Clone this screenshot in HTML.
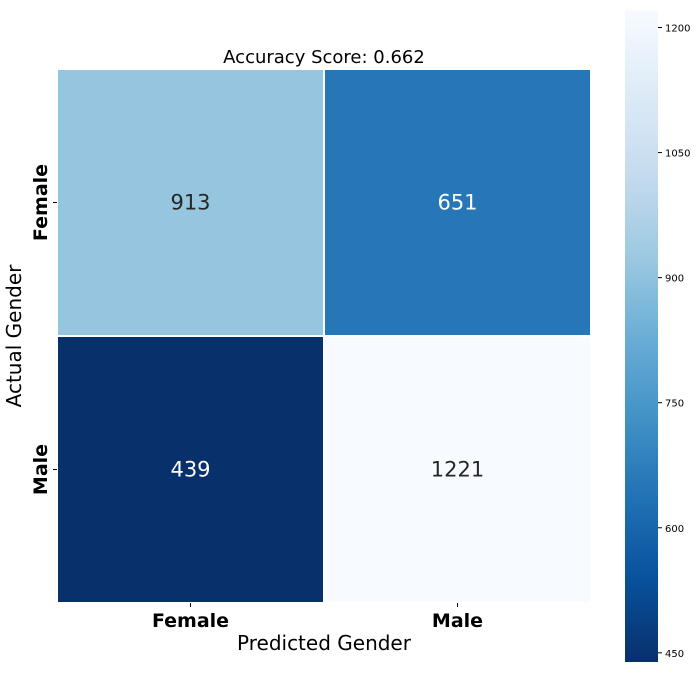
<!DOCTYPE html>
<html><head><meta charset="utf-8"><style>
body{margin:0;background:#fff;}
svg{display:block;font-family:"DejaVu Sans","Liberation Sans",sans-serif;}
</style></head><body>
<svg id="chart" width="697" height="673" viewBox="0 0 697 673" xmlns="http://www.w3.org/2000/svg">
<defs>
<linearGradient id="cbgrad" x1="0" y1="1" x2="0" y2="0">
<stop offset="0" stop-color="#08306b"/><stop offset="0.125" stop-color="#08519c"/><stop offset="0.25" stop-color="#2171b5"/><stop offset="0.375" stop-color="#4292c6"/><stop offset="0.5" stop-color="#6baed6"/><stop offset="0.625" stop-color="#9ecae1"/><stop offset="0.75" stop-color="#c6dbef"/><stop offset="0.875" stop-color="#deebf7"/><stop offset="1" stop-color="#f7fbff"/>
</linearGradient>
</defs>
<text x="324" y="63" font-size="18" text-anchor="middle" fill="#000">Accuracy Score: 0.662</text>
<g id="cells"></g>
<g id="ticks"></g>
<text x="324" y="650" font-size="20" text-anchor="middle" fill="#000">Predicted Gender</text>
<text transform="translate(21,336) rotate(-90)" font-size="20" text-anchor="middle" fill="#000">Actual Gender</text>
<rect x="625" y="10" width="33" height="652" fill="url(#cbgrad)"/>
<g id="cbticks"></g>
</svg>
<script>
const xCats = ["Female","Male"];
const yCats = ["Female","Male"];
const values = [[913,651],[439,1221]];
const cbTicks = [450,600,750,900,1050,1200];
const vmin = 439, vmax = 1221;

const NS="http://www.w3.org/2000/svg";
const stops=["#08306b","#08519c","#2171b5","#4292c6","#6baed6","#9ecae1","#c6dbef","#deebf7","#f7fbff"];
function hex(h){return [1,3,5].map(i=>parseInt(h.substr(i,2),16));}
function color(v){
  let t=(v-vmin)/(vmax-vmin); t=Math.max(0,Math.min(1,t));
  const p=t*8, i=Math.min(7,Math.floor(p)), f=p-i;
  const a=hex(stops[i]), b=hex(stops[i+1]);
  return "rgb("+a.map((c,k)=>Math.round(c+(b[k]-c)*f)).join(",")+")";
}
function lum(v){return (v-vmin)/(vmax-vmin);}
const X0=57,X1=591,Y0=69,Y1=603;
const cw=(X1-X0)/xCats.length, ch=(Y1-Y0)/yCats.length;
function xPos(i){return X0+i*cw;}
function yPos(j){return Y0+j*ch;}
function cbY(v){return 662-(v-vmin)/(vmax-vmin)*652;}
function mk(tag,attrs,parent){const e=document.createElementNS(NS,tag);for(const k in attrs)e.setAttribute(k,attrs[k]);parent.appendChild(e);return e;}
const cells=document.getElementById("cells");
yCats.forEach((yc,j)=>{xCats.forEach((xc,i)=>{
  const v=values[j][i];
  const r=mk("rect",{x:xPos(i),y:yPos(j),width:cw,height:ch,fill:color(v),stroke:"#fff","stroke-width":2},cells);
  
  
  const t=mk("text",{x:xPos(i)+cw/2,y:yPos(j)+ch/2+7,"font-size":21,"text-anchor":"middle",fill:lum(v)>0.45?"#262626":"#fff"},cells);
  t.textContent=v;
  
  
});});
const ticks=document.getElementById("ticks");
xCats.forEach((c,i)=>{
  const cx=xPos(i)+cw/2;
  mk("line",{x1:cx,x2:cx,y1:Y1,y2:Y1+4,stroke:"#000"},ticks);
  const t=mk("text",{x:cx,y:627,"font-size":19,"font-weight":"bold","text-anchor":"middle"},ticks);
  t.textContent=c;
  
  
});
yCats.forEach((c,j)=>{
  const cy=yPos(j)+ch/2;
  mk("line",{x1:X0-4,x2:X0,y1:cy,y2:cy,stroke:"#000"},ticks);
  const t=mk("text",{transform:"translate(47,"+cy+") rotate(-90)","font-size":19,"font-weight":"bold","text-anchor":"middle"},ticks);
  t.textContent=c;
  
  
});
const cbt=document.getElementById("cbticks");
cbTicks.forEach(v=>{
  const y=cbY(v);
  mk("line",{x1:658,x2:662,y1:y,y2:y,stroke:"#000"},cbt);
  const t=mk("text",{x:665,y:y+4,"font-size":10,fill:"#000"},cbt);
  t.textContent=v;
  
  
});
</script>
</body></html>
